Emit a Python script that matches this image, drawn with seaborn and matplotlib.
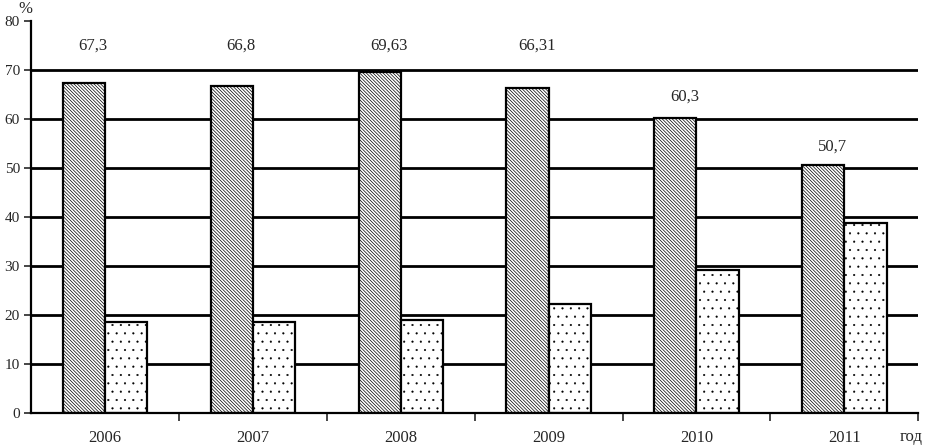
import pandas as pd
import seaborn as sns
import matplotlib as mpl
import matplotlib.pyplot as plt

# data
years = ["2006", "2007", "2008", "2009", "2010", "2011"]
series_a = [67.3, 66.8, 69.63, 66.31, 60.3, 50.7]
series_b = [18.6, 18.6, 19.0, 22.2, 29.2, 38.8]
labels_a = ["67,3", "66,8", "69,63", "66,31", "60,3", "50,7"]
label_height = [75, 75, 75, 75, 64.5, 54.3]

df = pd.DataFrame({
    "year": years * 2,
    "value": series_a + series_b,
    "series": ["a"] * len(years) + ["b"] * len(years),
})

sns.set_style("white")
mpl.rcParams["font.family"] = ["Liberation Serif", "DejaVu Serif"]
mpl.rcParams["hatch.linewidth"] = 0.5

fig = plt.figure(figsize=(9.32, 4.46), dpi=100)
ax = fig.add_axes([0.0333, 0.074, 0.952, 0.879])

sns.barplot(data=df, x="year", y="value", hue="series", ax=ax,
            palette=["white", "white"], edgecolor="black", linewidth=1.6,
            width=0.57, gap=0, saturation=1, legend=False)

n = len(years)
for i, p in enumerate(ax.patches[:2 * n]):
    if i < n:
        p.set_hatch("\\" * 10)
    else:
        p.set_hatch("..")
        p.set_hatch_linewidth(0.3)

ax.set_ylim(0, 80)
ax.set_xlim(-0.5, n - 0.5)
ax.set_yticks(range(0, 81, 10))
for y in range(10, 80, 10):
    ax.axhline(y, color="black", lw=2, zorder=0)

# value labels above first series
for i, (lab, h) in enumerate(zip(labels_a, label_height)):
    ax.text(i - 0.08, h, lab, ha="center", va="center", fontsize=12)

# group boundary ticks
ax.set_xticks([i + 0.5 for i in range(n)], minor=True)
ax.tick_params(axis="x", which="minor", length=6, width=1.2, direction="out", bottom=True)
ax.tick_params(axis="x", which="major", length=0, labelsize=12, pad=12)
ax.tick_params(axis="y", length=5, width=1.2, direction="out", left=True, labelsize=11, pad=3)

sns.despine(ax=ax, right=True, top=True)
ax.spines["left"].set_linewidth(1.6)
ax.spines["bottom"].set_linewidth(1.6)
ax.spines["left"].set_color("black")
ax.spines["bottom"].set_color("black")
ax.set_xlabel("")
ax.set_ylabel("")

fig.text(25 / 932, 1 - 9 / 446, "%", ha="center", va="center", fontsize=12)
fig.text(911 / 932, 1 - 437 / 446, "год", ha="center", va="center", fontsize=12)

fig.savefig("out.png", dpi=100)
